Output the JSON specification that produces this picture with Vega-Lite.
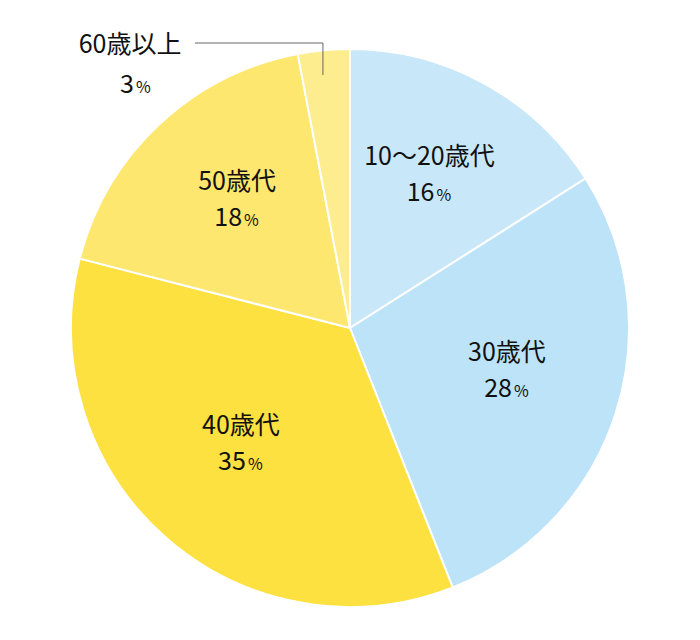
{
  "$schema": "https://vega.github.io/schema/vega-lite/v6.json",
  "width": 700,
  "height": 624,
  "padding": {"top": 16, "left": 0, "right": 0, "bottom": 0},
  "autosize": {"type": "none"},
  "background": "white",
  "config": {"view": {"stroke": null}, "font": "Noto Sans CJK JP"},
  "datasets": {
    "slices": [
      {"group": "10〜20歳代", "num": "16", "value": 16, "order": 1},
      {"group": "30歳代", "num": "28", "value": 28, "order": 2},
      {"group": "40歳代", "num": "35", "value": 35, "order": 3},
      {"group": "50歳代", "num": "18", "value": 18, "order": 4},
      {"group": "60歳以上", "num": "3", "value": 3, "order": 5}
    ],
    "leader": [
      {"u": -0.556, "v": 1.0215, "k": 1},
      {"u": -0.097, "v": 1.0215, "k": 2},
      {"u": -0.097, "v": 0.907, "k": 3}
    ],
    "outside": [
      {"group": "60歳以上", "num": "3", "u": -0.7885, "v": 1.0143, "v2": 0.871}
    ]
  },
  "layer": [
    {
      "data": {"name": "slices"},
      "mark": {"type": "arc", "outerRadius": 279, "stroke": "white", "strokeWidth": 2},
      "encoding": {
        "theta": {"field": "value", "type": "quantitative", "stack": true},
        "order": {"field": "order", "type": "quantitative"},
        "color": {
          "field": "group",
          "type": "nominal",
          "sort": ["10〜20歳代", "30歳代", "40歳代", "50歳代", "60歳以上"],
          "scale": {
            "domain": ["10〜20歳代", "30歳代", "40歳代", "50歳代", "60歳以上"],
            "range": ["#c8e7f8", "#bce3f8", "#fde140", "#fde76e", "#feed8e"]
          },
          "legend": null
        }
      }
    },
    {
      "data": {"name": "slices"},
      "transform": [{"filter": "datum.order < 5"}],
      "mark": {"type": "text", "radius": 165, "dy": -26, "fontSize": 25, "color": "#111111", "align": "center", "baseline": "middle"},
      "encoding": {
        "theta": {"field": "value", "type": "quantitative", "stack": true},
        "order": {"field": "order", "type": "quantitative"},
        "text": {"field": "group"}
      }
    },
    {
      "data": {"name": "slices"},
      "transform": [{"filter": "datum.order < 5"}],
      "mark": {"type": "text", "radius": 165, "dy": 10, "dx": 5, "fontSize": 25, "color": "#111111", "align": "right", "baseline": "middle"},
      "encoding": {
        "theta": {"field": "value", "type": "quantitative", "stack": true},
        "order": {"field": "order", "type": "quantitative"},
        "text": {"field": "num"}
      }
    },
    {
      "data": {"name": "slices"},
      "transform": [{"filter": "datum.order < 5"}],
      "mark": {"type": "text", "radius": 165, "dy": 13, "dx": 7, "fontSize": 16, "color": "#111111", "align": "left", "baseline": "middle", "text": "%"},
      "encoding": {
        "theta": {"field": "value", "type": "quantitative", "stack": true},
        "order": {"field": "order", "type": "quantitative"}
      }
    },
    {
      "data": {"name": "leader"},
      "mark": {"type": "line", "color": "#666666", "strokeWidth": 1},
      "encoding": {
        "x": {"field": "u", "type": "quantitative", "scale": {"domain": [-1.2545, 1.2545], "nice": false, "zero": false}, "axis": null},
        "y": {"field": "v", "type": "quantitative", "scale": {"domain": [-1.1183, 1.1183], "nice": false, "zero": false}, "axis": null},
        "order": {"field": "k", "type": "quantitative"}
      }
    },
    {
      "data": {"name": "outside"},
      "mark": {"type": "text", "fontSize": 25, "color": "#111111", "align": "center", "baseline": "middle"},
      "encoding": {
        "x": {"field": "u", "type": "quantitative"},
        "y": {"field": "v", "type": "quantitative"},
        "text": {"field": "group"}
      }
    },
    {
      "data": {"name": "outside"},
      "mark": {"type": "text", "fontSize": 25, "dx": 4, "color": "#111111", "align": "right", "baseline": "middle"},
      "encoding": {
        "x": {"field": "u", "type": "quantitative"},
        "y": {"field": "v2", "type": "quantitative"},
        "text": {"field": "num"}
      }
    },
    {
      "data": {"name": "outside"},
      "mark": {"type": "text", "fontSize": 16, "dx": 6, "dy": 3, "color": "#111111", "align": "left", "baseline": "middle", "text": "%"},
      "encoding": {
        "x": {"field": "u", "type": "quantitative"},
        "y": {"field": "v2", "type": "quantitative"}
      }
    }
  ]
}
